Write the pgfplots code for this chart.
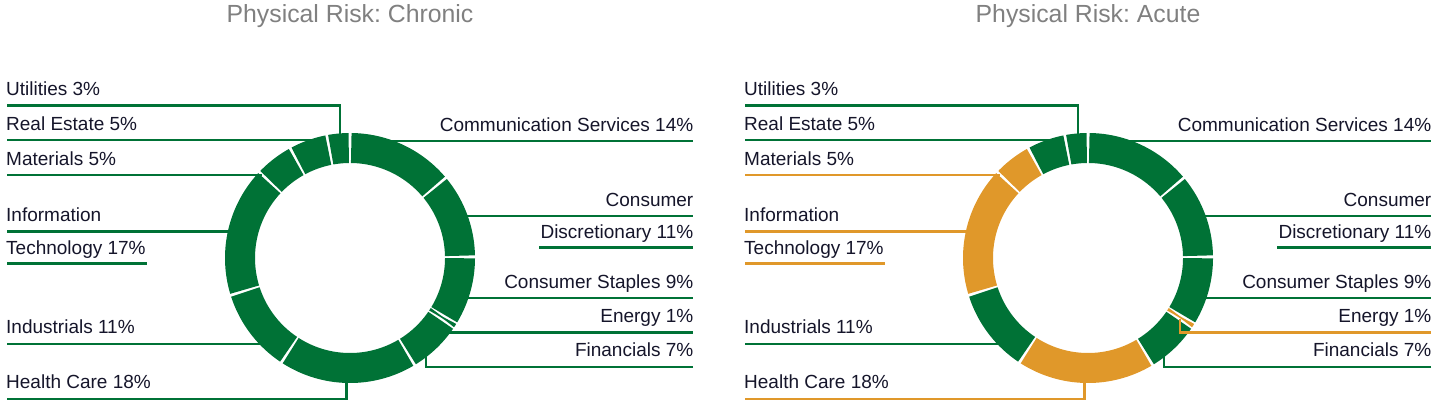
\documentclass[border=0pt]{standalone}
\usepackage{fontspec}
\setmainfont{Liberation Sans}
\usepackage{pgfplots}
\pgfplotsset{compat=1.18}
\frenchspacing
\definecolor{grn}{HTML}{007236}
\definecolor{org}{HTML}{E0982A}
\definecolor{txt}{HTML}{15152A}
\definecolor{ttl}{HTML}{808080}
\newcommand{\kf}{3.578529}% 360/100.6
\newcommand{\gp}{0.65}
\newcommand{\lbl}{\fontsize{19}{22}\selectfont}
\pgfplotsset{ldr/.style={line width=2.8pt, line join=miter}}
% #1 cumulative start, #2 value, #3 colour
\newcommand{\seg}[3]{%
  \pgfmathsetmacro\aS{90-(#1)*\kf-\gp}%
  \pgfmathsetmacro\aE{90-(#1+#2)*\kf+\gp}%
  \addplot[draw=#3, line width=30pt, domain=\aE:\aS, samples=60] ({350+110*cos(x)},{258-110*sin(x)});%
}
\newcommand{\labW}[3]{\node[anchor=base west, inner sep=0pt, font=\lbl, text=txt] at (axis cs:#1,#2) {#3};}
\newcommand{\labE}[3]{\node[anchor=base east, inner sep=0pt, font=\lbl, text=txt] at (axis cs:#1,#2) {#3};}
% #1 title, #2 materials, #3 IT, #4 health care, #5 energy
\newcommand{\donut}[5]{%
  \addplot[ldr, draw=grn] coordinates {(7,105.5) (340,105.5) (340,138)};
  \addplot[ldr, draw=grn] coordinates {(7,140) (312,140)};
  \addplot[ldr, draw=#2] coordinates {(7,175) (262,175)};
  \addplot[ldr, draw=#3] coordinates {(7,231.7) (232,231.7)};
  \addplot[ldr, draw=#3] coordinates {(7,263.3) (147,263.3)};
  \addplot[ldr, draw=grn] coordinates {(7,344) (263,344)};
  \addplot[ldr, draw=#4] coordinates {(7,399) (346.5,399) (346.5,378)};
  \addplot[ldr, draw=grn] coordinates {(390,141) (693,141)};
  \addplot[ldr, draw=grn] coordinates {(464,216) (693,216)};
  \addplot[ldr, draw=grn] coordinates {(539,247.7) (693,247.7)};
  \addplot[ldr, draw=grn] coordinates {(465,298) (693,298)};
  \addplot[ldr, draw=grn] coordinates {(693,367) (426,367) (426,353)};
  \seg{0}{14}{grn}
  \seg{14}{11}{grn}
  \seg{25}{9}{grn}
  \seg{34}{0.6}{#5}
  \seg{34.6}{7}{grn}
  \seg{41.6}{18}{#4}
  \seg{59.6}{11}{grn}
  \seg{70.6}{17}{#3}
  \seg{87.6}{5}{#2}
  \seg{92.6}{5}{grn}
  \seg{97.6}{3}{grn}
  \node[anchor=base, inner sep=0pt, font=\fontsize{24.8}{28}\selectfont, text=ttl] at (axis cs:350,22.7) {#1};
  \labW{6}{95}{Utilities 3\%}
  \labW{6}{130}{Real Estate 5\%}
  \labW{6}{165}{Materials 5\%}
  \labW{6}{221}{Information}
  \labW{6}{254}{Technology 17\%}
  \labW{6}{333}{Industrials 11\%}
  \labW{6}{388.5}{Health Care 18\%}
  \labE{693.5}{131}{Communication Services 14\%}
  \labE{693.5}{206}{Consumer}
  \labE{693.5}{238.5}{Discretionary 11\%}
  \labE{693.5}{288}{Consumer Staples 9\%}
  \labE{693.5}{322.7}{Energy 1\%}
  \labE{693.5}{356.5}{Financials 7\%}
}
\pgfplotsset{dn/.style={anchor=south west, width=707pt, height=412pt, scale only axis,
  xmin=0, xmax=707, ymin=0, ymax=412, y dir=reverse, hide axis, clip=false}}
\begin{document}
\begin{tikzpicture}
\useasboundingbox (0,0) rectangle (1445pt,412pt);
\begin{axis}[dn, at={(0pt,0pt)}]
  \donut{Physical Risk: Chronic}{grn}{grn}{grn}{grn}
  \addplot[ldr, draw=grn] coordinates {(447,332.7) (693,332.7)};
\end{axis}
\begin{axis}[dn, at={(738pt,0pt)}]
  \donut{Physical Risk: Acute}{org}{org}{org}{org}
  \addplot[ldr, draw=org] coordinates {(442,318.5) (442,332.7) (693,332.7)};
\end{axis}
\end{tikzpicture}
\end{document}
